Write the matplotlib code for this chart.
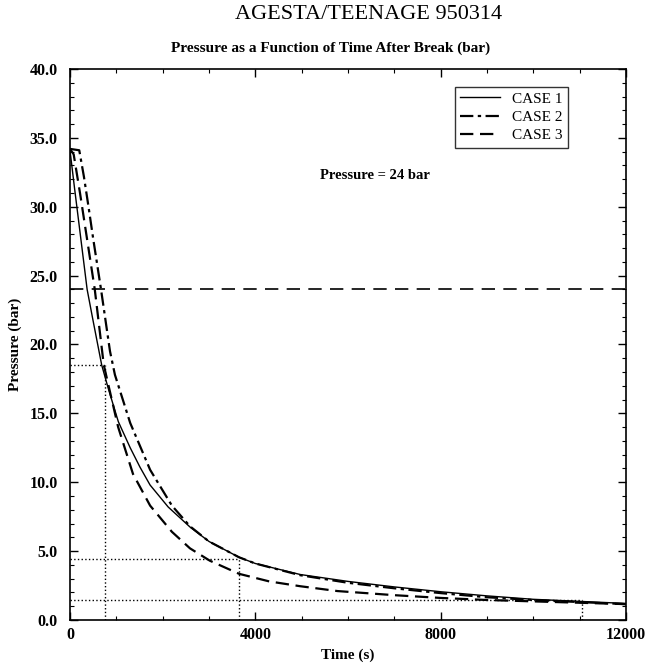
import matplotlib
matplotlib.use("Agg")
import matplotlib.pyplot as plt
from matplotlib.ticker import MultipleLocator, FormatStrFormatter

# case curves
t_case1 = [0, 100, 200, 370, 500, 685, 827, 1043, 1300, 1510, 1728, 2120, 2590, 3000,
           3650, 4000, 4970, 6000, 7000, 8000, 9000, 10000, 11000, 12000]
p_case1 = [34.1, 31.3, 28.6, 24.0, 21.7, 18.5, 16.8, 14.4, 12.5, 11.1, 9.8, 8.2, 6.75, 5.7,
           4.55, 4.1, 3.3, 2.8, 2.4, 2.05, 1.75, 1.5, 1.35, 1.2]

t_case2 = [0, 200, 300, 400, 500, 670, 864, 970, 1300, 1730, 2200, 2590, 3000, 3650, 4000,
           4970, 6000, 7000, 8000, 9000, 10000, 11000, 12000]
p_case2 = [34.2, 34.1, 32.2, 30.0, 27.7, 24.0, 19.5, 17.8, 14.3, 10.9, 8.3, 6.8, 5.7, 4.55, 4.1,
           3.25, 2.7, 2.3, 1.95, 1.65, 1.45, 1.3, 1.15]

t_case3 = [0, 80, 216, 535, 730, 1040, 1360, 1730, 2200, 2590, 3020, 3650, 4300, 4970,
           5770, 7000, 8000, 9000, 10000, 11000, 12000]
p_case3 = [34.2, 33.8, 31.0, 24.0, 18.5, 14.0, 10.6, 8.3, 6.4, 5.2, 4.3, 3.35, 2.8, 2.45,
           2.1, 1.8, 1.6, 1.45, 1.35, 1.25, 1.15]

p_limit = 24.0

# dotted read-off markers (time, pressure)
mark_t = [760, 3640, 11050]
mark_p = [18.5, 4.45, 1.45]

serif = "Liberation Serif"

fig = plt.figure(figsize=(6.45, 6.68), dpi=100)
ax = fig.add_axes([0.1085, 0.0719, 0.862, 0.8248])

ax.plot(t_case1, p_case1, color='black', linestyle='-', linewidth=1.0, label='CASE 1')
ax.plot(t_case2, p_case2, color='black', linestyle=(0, (6, 2, 1.5, 2)), linewidth=1.6, label='CASE 2')
ax.plot(t_case3, p_case3, color='black', linestyle=(0, (6, 3)), linewidth=1.6, label='CASE 3')

ax.axhline(y=p_limit, color='black', linestyle=(0, (8, 5)), linewidth=1.2)

for mt, mp in zip(mark_t, mark_p):
    ax.plot([0, mt], [mp, mp], color='black', linestyle=':', linewidth=1.0)
    ax.plot([mt, mt], [0, mp], color='black', linestyle=':', linewidth=1.0)

ax.text(5400, 32.3, "Pressure = 24 bar", fontsize=10.5, fontweight='bold',
        family=serif, va='center')

ax.set_xlim(0, 12000)
ax.set_ylim(0, 40)
ax.xaxis.set_major_locator(MultipleLocator(4000))
ax.xaxis.set_minor_locator(MultipleLocator(1000))
ax.yaxis.set_major_locator(MultipleLocator(5))
ax.yaxis.set_minor_locator(MultipleLocator(1))
ax.yaxis.set_major_formatter(FormatStrFormatter('%.1f'))
ax.tick_params(which='both', direction='in', top=True, right=True)
ax.tick_params(which='major', length=6, width=1.0)
ax.tick_params(which='minor', length=3, width=0.8)
for lbl in ax.get_xticklabels() + ax.get_yticklabels():
    lbl.set_family(serif)
    lbl.set_fontweight('bold')
    lbl.set_fontsize(11.5)
ax.tick_params(axis='x', pad=5)
ax.tick_params(axis='y', pad=9)
for sp in ax.spines.values():
    sp.set_linewidth(1.2)

ax.set_xlabel("Time (s)", family=serif, fontweight='bold', fontsize=11, labelpad=4)
ax.set_ylabel("Pressure (bar)", family=serif, fontweight='bold', fontsize=11, labelpad=5)

leg = ax.legend(loc='upper right', bbox_to_anchor=(0.896, 0.968), frameon=True, fancybox=False,
                edgecolor='black', prop={'family': serif, 'size': 11}, borderpad=0.35,
                labelspacing=0.3, handlelength=2.6, handletextpad=0.8, borderaxespad=0)
leg.get_frame().set_linewidth(1.0)

fig.text(0.512, 0.928, "Pressure as a Function of Time After Break (bar)", family=serif,
         fontweight='bold', fontsize=11, ha='center', va='center')
fig.text(0.572, 0.979, "AGESTA/TEENAGE 950314", family=serif, fontsize=16,
         ha='center', va='center')

fig.savefig("out.png", dpi=100)
